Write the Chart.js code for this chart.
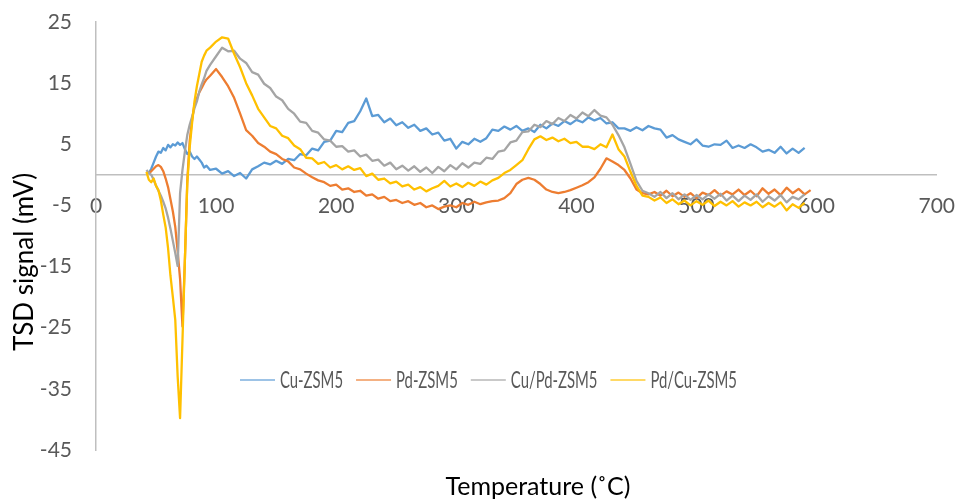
<!doctype html>
<html><head><meta charset="utf-8">
<title>TSD signal</title>
<script src="https://cdn.jsdelivr.net/npm/chart.js"></script>
<style>
  html, body { margin: 0; padding: 0; background: #fff; }
  #wrap { width: 974px; height: 499px; }
</style>
</head><body>
<div id="wrap"><canvas id="tsdChart" width="974" height="499"></canvas></div>
<script>
// temperature grid (°C)
const temps = [42,44,46,48,50,52,54,56,58,60,62,64,66,68,70,72,74,76,78,80,82,84,86,88,90,92,
  95,100,105,110,115,120,125,130,135,140,145,150,155,160,165,170,175,180,185,190,
  195,200,205,210,215,220,225,230,235,240,245,250,255,260,265,270,275,280,285,290,
  295,300,305,310,315,320,325,330,335,340,345,350,355,360,365,370,375,380,385,390,
  395,400,405,410,415,420,425,430,435,440,445,450,455,460,465,470,475,480,485,490,
  495,500,505,510,515,520,525,530,535,540,545,550,555,560,565,570,575,580,585,590,595];

const cuZsm5 = [null,0.3,1.0,2.0,3.0,3.8,3.6,4.4,4.0,4.9,4.5,5.0,4.8,5.3,4.9,5.2,4.2,3.4,3.8,3.0,2.6,3.0,2.5,2.0,1.2,1.5,
  0.8,1.0,0.2,0.6,-0.2,0.3,-0.6,0.9,1.4,2.0,1.7,2.3,1.8,2.6,2.4,3.4,3.2,4.3,4.0,5.4,
  5.6,7.2,7.0,8.5,8.8,10.4,12.5,9.6,9.8,8.6,9.2,8.1,8.6,7.7,8.2,7.2,7.6,6.6,6.9,5.6,
  5.9,4.3,5.4,5.0,5.9,5.4,6.0,7.4,7.2,7.9,7.4,8.0,7.2,7.6,7.0,8.2,7.6,8.4,8.0,8.8,
  8.3,9.0,8.6,9.4,8.9,9.3,8.4,8.6,7.6,7.6,7.2,7.8,7.3,8.0,7.6,7.4,6.1,6.5,5.8,5.4,
  5.0,5.8,4.8,4.6,5.0,4.9,5.6,4.4,4.8,4.4,5.0,4.5,3.8,4.1,3.6,4.6,3.5,4.3,3.6,4.4,null];

const pdZsm5 = [null,0.2,0.6,1.0,1.4,1.6,1.3,0.6,-0.6,-2.0,-4.0,-6.0,-8.5,-12.5,-17.0,-24.8,-14.0,-1.0,5.5,9.0,11.5,12.5,13.5,14.2,15.0,15.6,
  16.2,17.3,16.0,14.5,12.6,10.0,7.3,6.4,5.2,4.6,3.8,3.4,2.6,2.2,1.2,0.9,0.2,-0.4,-0.9,-1.2,
  -1.8,-1.6,-2.4,-2.2,-2.8,-2.6,-3.4,-3.2,-3.9,-3.6,-4.3,-4.1,-4.6,-4.3,-4.9,-4.6,-5.3,-5.0,-5.6,-5.2,
  -5.0,-5.3,-4.6,-4.9,-4.4,-4.8,-4.5,-4.3,-4.2,-3.8,-3.0,-1.5,-0.8,-0.5,-0.8,-1.5,-2.4,-2.8,-3.0,-2.8,
  -2.5,-2.1,-1.7,-1.2,-0.4,1.0,2.7,2.2,1.6,0.8,-0.6,-2.4,-3.0,-3.2,-2.8,-3.4,-2.6,-3.5,-2.9,-3.6,
  -3.0,-3.8,-2.9,-3.3,-2.5,-3.4,-2.7,-3.2,-2.4,-3.3,-2.6,-3.5,-2.2,-3.1,-2.4,-3.3,-2.1,-3.0,-2.3,-3.2,-2.5];

const cuPdZsm5 = [0.8,0.3,0.0,-0.8,-1.8,-2.6,-3.4,-4.4,-5.5,-7.0,-8.8,-10.8,-12.8,-14.9,-3.0,0.8,3.8,6.5,8.2,9.5,10.9,12.0,13.6,14.8,15.8,17.0,
  18.0,19.4,20.8,20.2,20.3,19.0,18.3,16.8,16.4,14.9,14.2,12.8,12.2,10.8,10.0,8.7,8.5,7.2,6.9,5.8,
  5.6,4.6,4.7,3.8,4.0,3.0,3.3,2.3,2.5,1.5,2.0,0.9,1.5,0.7,1.4,0.5,1.2,0.3,1.3,0.6,
  1.6,0.9,1.9,1.2,2.0,1.8,2.8,2.6,3.8,4.0,5.3,5.6,7.0,7.1,8.2,7.8,8.8,8.3,9.3,8.8,
  9.8,9.2,10.2,9.6,10.6,9.7,9.4,8.2,6.5,4.5,1.8,-1.0,-2.6,-3.0,-3.6,-2.8,-3.8,-3.0,-4.0,-3.2,
  -4.1,-3.3,-4.0,-3.2,-3.9,-3.1,-4.2,-3.4,-4.3,-3.4,-4.1,-3.2,-4.4,-3.5,-4.2,-3.3,-4.5,-3.6,-4.0,-3.2,null];

const pdCuZsm5 = [0.5,-0.8,-1.2,-0.6,-1.8,-2.5,-4.2,-6.5,-8.6,-12.0,-16.5,-20.0,-23.7,-33.0,-39.8,-27.0,-14.0,-1.5,4.5,8.5,12.0,14.5,16.5,18.5,19.5,20.3,
  20.8,21.8,22.5,22.3,19.8,17.6,15.0,13.0,10.8,9.4,8.0,7.6,6.4,6.0,4.8,4.2,2.8,2.7,1.8,2.1,
  1.2,1.6,0.9,1.4,0.8,1.1,-0.2,0.2,-0.8,-0.6,-1.4,-1.1,-1.9,-1.6,-2.4,-2.0,-2.7,-2.2,-1.8,-1.0,
  -1.9,-1.4,-2.0,-1.3,-1.8,-1.1,-1.6,-0.9,-0.5,0.3,0.8,1.6,2.4,4.2,5.8,6.3,5.7,6.1,5.5,5.9,
  5.2,5.4,4.6,4.6,4.2,5.0,4.5,6.6,4.2,3.0,0.5,-1.8,-3.4,-3.6,-4.2,-3.7,-4.6,-4.0,-4.8,-4.2,
  -5.0,-4.3,-4.9,-4.2,-5.1,-4.4,-5.0,-4.3,-5.2,-4.5,-5.0,-4.4,-5.3,-4.6,-5.2,-4.5,-5.8,-4.8,-5.4,-4.6,null];

const xTicks = [0, 100, 200, 300, 400, 500, 600, 700];
const yTicks = [-45, -35, -25, -15, -5, 5, 15, 25];
const seriesNames = ['Cu-ZSM5', 'Pd-ZSM5', 'Cu/Pd-ZSM5', 'Pd/Cu-ZSM5'];
const seriesColors = ['#5b9bd5', '#ed7d31', '#a5a5a5', '#ffc000'];
const seriesValues = [cuZsm5, pdZsm5, cuPdZsm5, pdCuZsm5];

function toPoints(vals) {
  return temps.map((t, i) => ({ x: t, y: vals[i] })).filter(p => p.y !== null);
}

const axisGray = '#bfbfbf';
const tickColor = '#595959';
const tickFont = { family: 'Lato', size: 21 };

// axis titles + Excel-style legend inside the plot
const extras = {
  id: 'extras',
  afterDraw(chart) {
    const c = chart.ctx;
    c.save();
    c.fillStyle = '#000';
    c.textAlign = 'center';
    c.textBaseline = 'middle';
    c.font = '25px Lato';
    c.fillText('Temperature (˚C)', 538, 487);
    c.translate(25, 262);
    c.rotate(-Math.PI / 2);
    c.font = '26px Lato';
    c.fillText('TSD signal (mV)', 0, 0);
    c.restore();

    c.save();
    c.font = '24px Lato';
    c.textBaseline = 'middle';
    let x = 240;
    const y = 380;
    chart.data.datasets.forEach(ds => {
      c.globalAlpha = 0.6;
      c.strokeStyle = ds.borderColor;
      c.lineWidth = 2;
      c.beginPath();
      c.moveTo(x, y);
      c.lineTo(x + 35, y);
      c.stroke();
      c.globalAlpha = 1;
      const sx = 0.62;
      const w = c.measureText(ds.label).width * sx;
      c.fillStyle = tickColor;
      c.save();
      c.translate(x + 40, y);
      c.scale(sx, 1);
      c.fillText(ds.label, 0, 0);
      c.restore();
      x += 40 + w + 13;
    });
    c.restore();
  }
};

new Chart(document.getElementById('tsdChart'), {
  type: 'line',
  data: {
    datasets: seriesNames.map((name, i) => ({
      label: name,
      data: toPoints(seriesValues[i]),
      borderColor: seriesColors[i],
      backgroundColor: seriesColors[i],
      borderWidth: 2.3,
      borderJoinStyle: 'round',
      pointRadius: 0,
      tension: 0,
      order: 3 - i
    }))
  },
  options: {
    responsive: false,
    animation: false,
    devicePixelRatio: 1,
    layout: { padding: { left: 0, right: 19, top: 22, bottom: 49 } },
    plugins: { legend: { display: false }, tooltip: { enabled: false } },
    scales: {
      x: {
        type: 'linear',
        min: 0, max: 700,
        position: { y: 0 },
        afterBuildTicks: s => { s.ticks = xTicks.map(v => ({ value: v })); },
        grid: { display: false, drawTicks: false },
        border: { color: axisGray, width: 1.5 },
        ticks: { color: tickColor, font: tickFont, padding: 19, maxRotation: 0, autoSkip: false }
      },
      y: {
        min: -45, max: 25,
        afterBuildTicks: s => { s.ticks = yTicks.map(v => ({ value: v })); },
        grid: { display: false, drawTicks: false },
        border: { color: axisGray, width: 1.5 },
        ticks: { color: tickColor, font: tickFont, padding: 24 },
        afterFit: s => { s.width = 96; s.paddingTop = 0; s.paddingBottom = 0; }
      }
    }
  },
  plugins: [extras]
});
</script>
</body></html>
